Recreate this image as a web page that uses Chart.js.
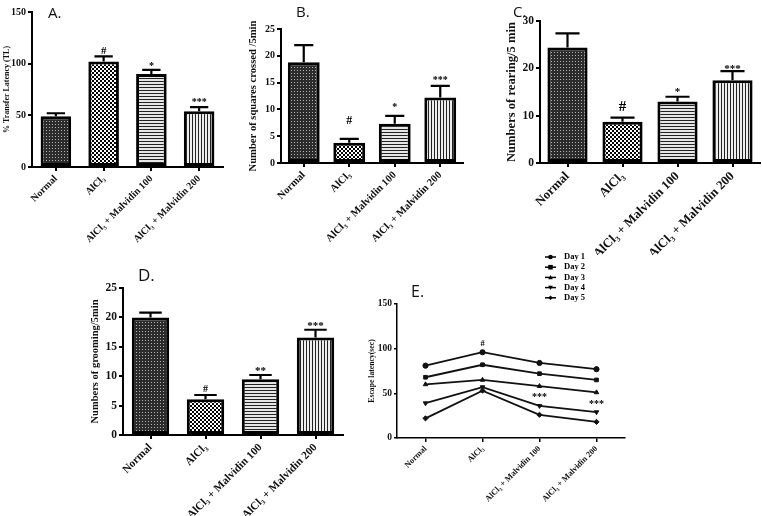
<!DOCTYPE html>
<html>
<head>
<meta charset="utf-8">
<script src="https://cdn.jsdelivr.net/npm/chart.js@4.4.1/dist/chart.umd.min.js"></script>
<style>
  body { margin: 0; background: #fff; }
  #wrap { position: relative; width: 762px; height: 516px; overflow: hidden; }
  #wrap canvas { position: absolute; }
  .tag { position: absolute; font-family: 'Open Sans', 'Noto Sans', sans-serif; color: #111; line-height: 1; }
</style>
</head>
<body>
<div id="wrap">
  <canvas id="panelA" width="240" height="255" style="left:0;top:0;width:240px;height:255px"></canvas>
  <canvas id="panelB" width="240" height="255" style="left:245px;top:0;width:240px;height:255px"></canvas>
  <canvas id="panelC" width="272" height="255" style="left:490px;top:0;width:272px;height:255px"></canvas>
  <canvas id="panelD" width="300" height="261" style="left:60px;top:255px;width:300px;height:261px"></canvas>
  <canvas id="panelE" width="300" height="271" style="left:360px;top:245px;width:300px;height:271px"></canvas>
  <div class="tag" style="left:48px;top:5px;font-size:15px">A.</div>
  <div class="tag" style="left:296px;top:4px;font-size:15px">B.</div>
  <div class="tag" style="left:513px;top:4px;font-size:15px">C.</div>
  <div class="tag" style="left:138px;top:266px;font-size:17px">D.</div>
  <div class="tag" style="left:411px;top:283px;font-size:16px">E.</div>
</div>
<script>
// grupos (eixo x de todos os paineis)
const groups = ['Normal', 'AlCl₃', 'AlCl₃ + Malvidin 100', 'AlCl₃ + Malvidin 200'];

// A - transfer latency
const latencyMean = [49, 102, 90, 54];
const latencySem = [3, 5, 4, 4];
const latencyMarks = ['', '#', '*', '***'];

// B - squares crossed
const squaresMean = [18.8, 3.8, 7.3, 12.2];
const squaresSem = [3.2, 0.7, 1.5, 2.2];
const squaresMarks = ['', '#', '*', '***'];

// C - rearing
const rearingMean = [24.4, 8.7, 13, 17.5];
const rearingSem = [3, 0.9, 1, 1.9];
const rearingMarks = ['', '#', '*', '***'];

// D - grooming
const groomingMean = [20, 6.1, 9.5, 16.6];
const groomingSem = [0.8, 0.7, 0.7, 1.3];
const groomingMarks = ['', '#', '**', '***'];

// E - escape latency por dia
const dayNames = ['Day 1', 'Day 2', 'Day 3', 'Day 4', 'Day 5'];
const day1 = [81, 96, 84, 77];
const day2 = [68, 82, 72, 65];
const day3 = [60, 65, 58, 51];
const day4 = [39, 57, 36, 29];
const day5 = [22, 53, 26, 18];
const escapeMarks = [['AlCl₃', 106, '#'], ['AlCl₃ + Malvidin 100', 48, '***'], ['AlCl₃ + Malvidin 200', 40, '***']];

const serif = "'Liberation Serif', 'DejaVu Serif', serif";

function makePattern(kind) {
    const c = document.createElement('canvas');
    const g = c.getContext('2d');
    if (kind === 'dots') {
        c.width = 3; c.height = 3;
        g.fillStyle = '#2b2b2b'; g.fillRect(0, 0, 3, 3);
        g.fillStyle = '#b4b4b4'; g.fillRect(1, 1, 1, 1);
    } else if (kind === 'checker') {
        c.width = 4; c.height = 4;
        g.fillStyle = '#fff'; g.fillRect(0, 0, 4, 4);
        g.fillStyle = '#000'; g.fillRect(0, 0, 2, 2); g.fillRect(2, 2, 2, 2);
    } else if (kind === 'hlines') {
        c.width = 3; c.height = 3;
        g.fillStyle = '#e6e6e6'; g.fillRect(0, 0, 3, 3);
        g.fillStyle = '#222'; g.fillRect(0, 0, 3, 1);
    } else {
        c.width = 3; c.height = 3;
        g.fillStyle = '#eeeeee'; g.fillRect(0, 0, 3, 3);
        g.fillStyle = '#222'; g.fillRect(0, 0, 1, 3);
    }
    return g.createPattern(c, 'repeat');
}

const barFills = [makePattern('dots'), makePattern('checker'), makePattern('hlines'), makePattern('vlines')];

// barras de erro (so para cima) + asteriscos
const errorBars = {
    id: 'errorBars',
    afterDatasetsDraw(chart, args, opts) {
        if (!opts.sem) return;
        const ctx = chart.ctx;
        const y = chart.scales.y;
        const meta = chart.getDatasetMeta(0);
        const values = chart.data.datasets[0].data;
        ctx.save();
        ctx.strokeStyle = '#000';
        ctx.lineWidth = 2.2;
        ctx.fillStyle = '#000';
        ctx.textAlign = 'center';
        ctx.textBaseline = 'alphabetic';
        meta.data.forEach((bar, i) => {
            const top = y.getPixelForValue(values[i] + opts.sem[i]);
            const half = bar.width * 0.3;
            ctx.beginPath();
            ctx.moveTo(bar.x, bar.y);
            ctx.lineTo(bar.x, top);
            ctx.moveTo(bar.x - half, top);
            ctx.lineTo(bar.x + half, top);
            ctx.stroke();
            const mark = opts.marks[i];
            if (mark) {
                const star = mark.startsWith('*');
                const size = star ? opts.starSize : opts.hashSize;
                ctx.font = 'bold ' + size + 'px ' + serif;
                // o asterisco fica alto na caixa da fonte
                const base = top - opts.gaps[i] + (star ? size * 0.32 : 0);
                ctx.fillText(mark, bar.x, base);
            }
        });
        ctx.restore();
    }
};

function makeBarChart(id, p) {
    return new Chart(document.getElementById(id), {
        type: 'bar',
        data: {
            labels: groups,
            datasets: [{
                data: p.values,
                backgroundColor: barFills,
                borderColor: '#000',
                borderWidth: 3,
                borderSkipped: false,
                barPercentage: 1,
                categoryPercentage: p.barPct
            }]
        },
        options: {
            responsive: false,
            animation: false,
            layout: { padding: { top: p.top, right: p.right, left: 0, bottom: 0 } },
            plugins: {
                legend: { display: false },
                tooltip: { enabled: false },
                errorBars: { sem: p.sem, marks: p.marks, gaps: p.gaps, hashSize: p.hashSize, starSize: p.starSize }
            },
            scales: {
                x: {
                    afterFit(scale) { scale.height = p.xHeight; },
                    grid: { offset: false, drawOnChartArea: false, drawTicks: true, tickLength: 4, color: '#000', lineWidth: 2 },
                    border: { display: true, color: '#000', width: 2 },
                    ticks: {
                        autoSkip: false, minRotation: 45, maxRotation: 45, padding: 2,
                        color: '#111', font: { family: serif, weight: 'bold', size: p.xFont }
                    }
                },
                y: {
                    min: 0, max: p.max,
                    afterFit(scale) { scale.width = p.yWidth; },
                    grid: { drawOnChartArea: false, drawTicks: true, tickLength: 4, color: '#000', lineWidth: 2 },
                    border: { display: true, color: '#000', width: 2 },
                    ticks: { stepSize: p.step, padding: 2, color: '#111', font: { family: serif, weight: 'bold', size: p.tickFont } },
                    title: {
                        display: true, text: p.title, color: '#111',
                        padding: { top: p.titlePad, bottom: 0 },
                        font: { family: serif, weight: 'bold', size: p.titleFont }
                    }
                }
            }
        },
        plugins: [errorBars]
    });
}

makeBarChart('panelA', {
    values: latencyMean, sem: latencySem, marks: latencyMarks, max: 150, step: 50,
    title: '% Transfer Latency (TL)', titleFont: 8, titlePad: 2,
    top: 12, right: 17, yWidth: 32, xHeight: 88, barPct: 0.64,
    tickFont: 10, xFont: 10, hashSize: 11, starSize: 10, gaps: [0, 2, 4, 5]
});

makeBarChart('panelB', {
    values: squaresMean, sem: squaresSem, marks: squaresMarks, max: 25, step: 5,
    title: 'Number of squares crossed /5min', titleFont: 10.6, titlePad: 2,
    top: 29, right: 22, yWidth: 36, xHeight: 92, barPct: 0.7,
    tickFont: 10, xFont: 10.5, hashSize: 12, starSize: 10, gaps: [0, 15, 9, 6]
});

makeBarChart('panelC', {
    values: rearingMean, sem: rearingSem, marks: rearingMarks, max: 30, step: 10,
    title: 'Numbers of rearing/5 min', titleFont: 12.6, titlePad: 14,
    top: 21, right: 2, yWidth: 50, xHeight: 92, barPct: 0.73,
    tickFont: 11.5, xFont: 12.8, hashSize: 15, starSize: 11, gaps: [0, 7, 5, 3]
});

makeBarChart('panelD', {
    values: groomingMean, sem: groomingSem, marks: groomingMarks, max: 25, step: 5,
    title: 'Numbers of grooming/5min', titleFont: 10.5, titlePad: 29,
    top: 33, right: 17, yWidth: 63, xHeight: 81, barPct: 0.68,
    tickFont: 11.5, xFont: 11.2, hashSize: 10, starSize: 11, gaps: [0, 3, 5, 4]
});

// desenha um marcador do grafico E
function drawMarker(ctx, style, x, y, r) {
    ctx.beginPath();
    if (style === 'circle') {
        ctx.arc(x, y, r, 0, Math.PI * 2);
    } else if (style === 'rect') {
        ctx.rect(x - r, y - r, r * 2, r * 2);
    } else if (style === 'triangle') {
        ctx.moveTo(x, y - r); ctx.lineTo(x + r, y + r * 0.8); ctx.lineTo(x - r, y + r * 0.8);
    } else if (style === 'down') {
        ctx.moveTo(x, y + r); ctx.lineTo(x + r, y - r * 0.8); ctx.lineTo(x - r, y - r * 0.8);
    } else {
        ctx.moveTo(x, y - r); ctx.lineTo(x + r, y); ctx.lineTo(x, y + r); ctx.lineTo(x - r, y);
    }
    ctx.closePath();
    ctx.fill();
}

const dayStyles = ['circle', 'rect', 'triangle', 'down', 'diamond'];

const legendAndMarks = {
    id: 'legendAndMarks',
    afterDraw(chart) {
        const ctx = chart.ctx;
        const area = chart.chartArea;
        const x = chart.scales.x, y = chart.scales.y;
        ctx.save();
        ctx.fillStyle = '#000';
        ctx.strokeStyle = '#000';
        ctx.lineWidth = 1.5;
        ctx.font = 'bold 8.5px ' + serif;
        ctx.textBaseline = 'middle';
        chart.data.datasets.forEach((ds, i) => {
            const lx = area.left + 148;
            const ly = area.top - 47 + i * 10.2;
            ctx.beginPath();
            ctx.moveTo(lx, ly); ctx.lineTo(lx + 11, ly); ctx.stroke();
            drawMarker(ctx, dayStyles[i], lx + 5.5, ly, 2.3);
            ctx.textAlign = 'left';
            ctx.fillText(ds.label, lx + 19, ly);
        });
        ctx.textAlign = 'center';
        ctx.textBaseline = 'alphabetic';
        escapeMarks.forEach(m => {
            const star = m[2].startsWith('*');
            const size = star ? 10 : 8.5;
            ctx.font = 'bold ' + size + 'px ' + serif;
            // centra o simbolo no valor
            const shift = star ? size * 0.5 : size * 0.33;
            ctx.fillText(m[2], x.getPixelForValue(groups.indexOf(m[0])), y.getPixelForValue(m[1]) + shift);
        });
        ctx.restore();
    }
};

const dayData = [day1, day2, day3, day4, day5];

new Chart(document.getElementById('panelE'), {
    type: 'line',
    data: {
        labels: groups,
        datasets: dayData.map((d, i) => ({
            label: dayNames[i],
            data: d,
            borderColor: '#111',
            backgroundColor: '#111',
            borderWidth: 1.8,
            pointRadius: 2.6,
            pointBorderWidth: 1,
            pointStyle: ['circle', 'rect', 'triangle', 'triangle', 'rectRot'][i],
            rotation: i === 3 ? 180 : 0,
            tension: 0
        }))
    },
    options: {
        responsive: false,
        animation: false,
        layout: { padding: { top: 59, right: 35, left: 0, bottom: 0 } },
        plugins: { legend: { display: false }, tooltip: { enabled: false } },
        scales: {
            x: {
                offset: true,
                afterFit(scale) { scale.height = 78; },
                grid: { offset: false, drawOnChartArea: false, drawTicks: true, tickLength: 4, color: '#000', lineWidth: 1.5 },
                border: { display: true, color: '#000', width: 1.5 },
                ticks: {
                    autoSkip: false, minRotation: 45, maxRotation: 45, padding: 2,
                    color: '#111', font: { family: serif, weight: 'bold', size: 8.3 }
                }
            },
            y: {
                min: 0, max: 150,
                afterFit(scale) { scale.width = 37; },
                grid: { drawOnChartArea: false, drawTicks: true, tickLength: 3, color: '#000', lineWidth: 1.5 },
                border: { display: true, color: '#000', width: 1.5 },
                ticks: { stepSize: 50, padding: 2, color: '#111', font: { family: serif, weight: 'bold', size: 9.5 } },
                title: {
                    display: true, text: 'Escape latency(sec)', color: '#111',
                    padding: { top: 7, bottom: 0 },
                    font: { family: serif, weight: 'bold', size: 7.7 }
                }
            }
        }
    },
    plugins: [legendAndMarks]
});
</script>
</body>
</html>
